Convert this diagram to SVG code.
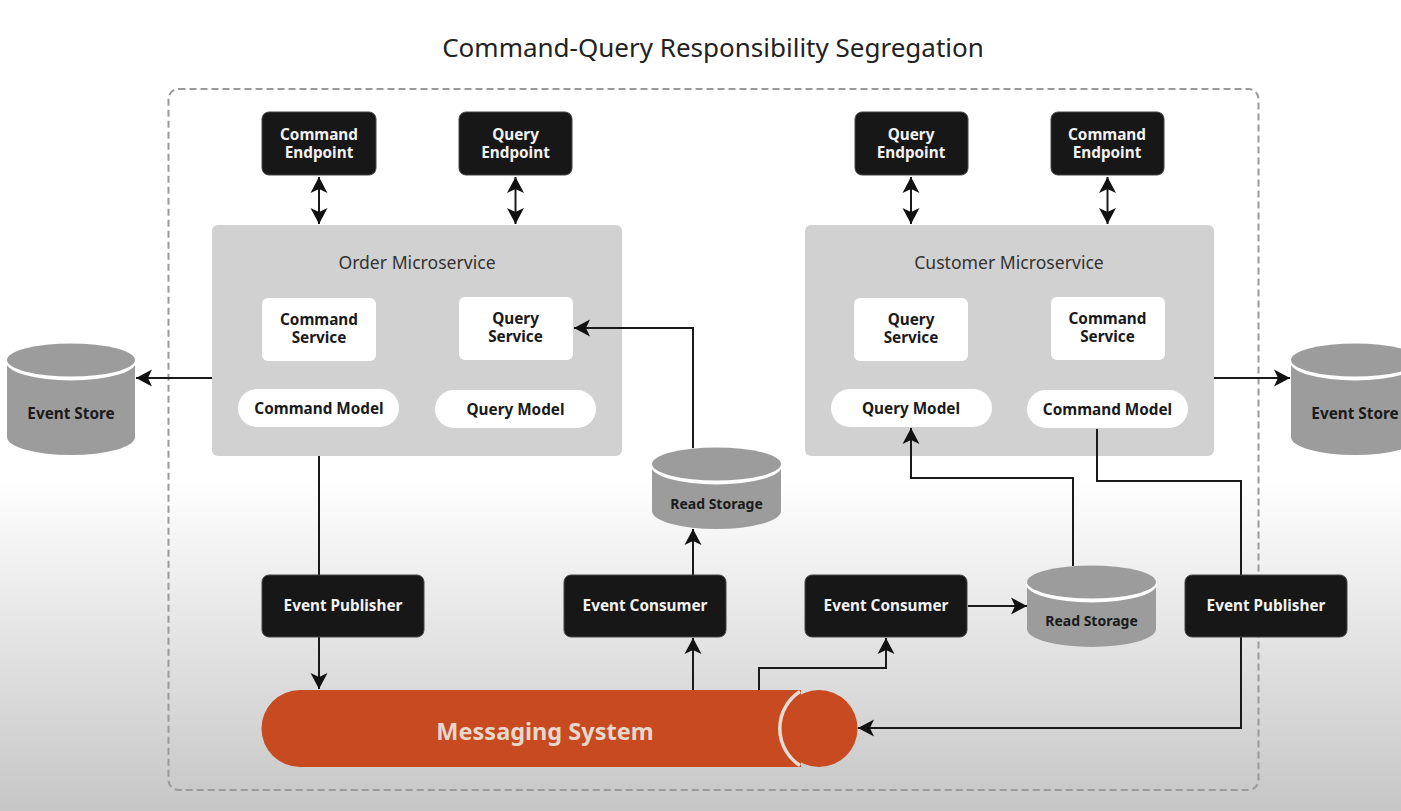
<svg xmlns="http://www.w3.org/2000/svg" width="1401" height="811" viewBox="0 0 1401 811">
<style>
text{font-family:"Noto Sans","Open Sans","DejaVu Sans",sans-serif;text-anchor:middle}
.t{font-size:26px;fill:#222}
.h{font-size:17.6px;fill:#333}
.b{font-size:15.3px;font-weight:700}
.w{fill:#f2f2f2}
.k{fill:#1a1a1a}
.blk{fill:#171717;stroke:#444;stroke-width:1}
.wht{fill:#fff}
.gry{fill:#d1d1d1}
.l{fill:none;stroke:#1a1a1a;stroke-width:2}
.a{marker-end:url(#ah)}
.d{marker-start:url(#ahs);marker-end:url(#ah)}
.cyl{fill:#9c9c9c}
.rim{fill:#fff}
</style>
<defs>
<linearGradient id="bg" x1="0" y1="0" x2="0" y2="1"><stop offset="0" stop-color="#fff"/><stop offset=".59" stop-color="#fff"/><stop offset="1" stop-color="#c6c6c6"/></linearGradient>
<marker id="ah" markerUnits="userSpaceOnUse" markerWidth="18" markerHeight="20" refX="16" refY="10" orient="auto"><path d="M0 1.500 L16 10 L0 18.500 L4 10Z" fill="#111"/></marker>
<marker id="ahs" markerUnits="userSpaceOnUse" markerWidth="18" markerHeight="20" refX="16" refY="10" orient="auto-start-reverse"><path d="M0 1.500 L16 10 L0 18.500 L4 10Z" fill="#111"/></marker>
</defs>
<rect width="1401" height="811" fill="url(#bg)"/>
<text class="t" x="713" y="56.500">Command-Query Responsibility Segregation</text>
<rect x="168.500" y="89" width="1090" height="701" rx="10" fill="none" stroke="#9a9a9a" stroke-width="2" stroke-dasharray="7 4"/>

<g id="order-microservice"><rect class="gry" x="212" y="225" width="410" height="231" rx="6"/><text class="h" x="417" y="268.500">Order Microservice</text></g>
<g id="customer-microservice"><rect class="gry" x="805" y="225" width="409" height="231" rx="6"/><text class="h" x="1009" y="268.500">Customer Microservice</text></g>

<g id="connectors">
<path class="l d" d="M319 177V224"/>
<path class="l d" d="M515.500 177V224"/>
<path class="l d" d="M911 177V224"/>
<path class="l d" d="M1107.500 177V224"/>
<path class="l a" d="M212 378H136"/>
<path class="l a" d="M1214 378H1290"/>
<path class="l a" d="M693 448V328H574"/>
<path class="l a" d="M693 575V529"/>
<path class="l a" d="M693 690V638"/>
<path class="l" d="M319 456V575"/>
<path class="l a" d="M319 637V689"/>
<path class="l a" d="M759 690V668H886V638"/>
<path class="l a" d="M968 606H1027"/>
<path class="l a" d="M1073 566V478H911V428"/>
<path class="l" d="M1097 429V481H1241V575"/>
<path class="l a" d="M1241 637V728H858"/>
</g>

<g id="command-endpoint-1"><rect class="blk" x="262" y="112" width="114" height="63" rx="7"/><text class="b w" x="319" y="140">Command</text><text class="b w" x="319" y="158">Endpoint</text></g>
<g id="query-endpoint-1"><rect class="blk" x="459" y="112" width="113" height="63" rx="7"/><text class="b w" x="515.500" y="140">Query</text><text class="b w" x="515.500" y="158">Endpoint</text></g>
<g id="query-endpoint-2"><rect class="blk" x="855" y="112" width="113" height="63" rx="7"/><text class="b w" x="911" y="140">Query</text><text class="b w" x="911" y="158">Endpoint</text></g>
<g id="command-endpoint-2"><rect class="blk" x="1051" y="112" width="113" height="63" rx="7"/><text class="b w" x="1107" y="140">Command</text><text class="b w" x="1107" y="158">Endpoint</text></g>

<g id="command-service-1"><rect class="wht" x="262" y="298" width="114" height="63" rx="6"/><text class="b k" x="319" y="325">Command</text><text class="b k" x="319" y="343">Service</text></g>
<g id="query-service-1"><rect class="wht" x="459" y="297" width="114" height="63" rx="6"/><text class="b k" x="515.500" y="324">Query</text><text class="b k" x="515.500" y="342">Service</text></g>
<g id="query-service-2"><rect class="wht" x="854" y="298" width="114" height="63" rx="6"/><text class="b k" x="911" y="325">Query</text><text class="b k" x="911" y="343">Service</text></g>
<g id="command-service-2"><rect class="wht" x="1051" y="297" width="114" height="63" rx="6"/><text class="b k" x="1107.500" y="324">Command</text><text class="b k" x="1107.500" y="342">Service</text></g>

<g id="command-model-1"><rect class="wht" x="238" y="389" width="161" height="38" rx="19"/><text class="b k" x="319" y="414">Command Model</text></g>
<g id="query-model-1"><rect class="wht" x="435" y="390" width="161" height="38" rx="19"/><text class="b k" x="515.500" y="415">Query Model</text></g>
<g id="query-model-2"><rect class="wht" x="831" y="389" width="161" height="38" rx="19"/><text class="b k" x="911" y="414">Query Model</text></g>
<g id="command-model-2"><rect class="wht" x="1027" y="390" width="161" height="38" rx="19"/><text class="b k" x="1107.500" y="415">Command Model</text></g>

<g id="event-store-1"><path class="cyl" d="M7 362V437A64 18 0 0 0 135 437V362Z"/><ellipse class="rim" cx="71" cy="362" rx="65" ry="18.500"/><ellipse class="cyl" cx="71" cy="360" rx="64" ry="16.500"/><text class="b k" x="71" y="419">Event Store</text></g>
<g id="event-store-2"><path class="cyl" d="M1291 362V437A64 18 0 0 0 1419 437V362Z"/><ellipse class="rim" cx="1355" cy="362" rx="65" ry="18.500"/><ellipse class="cyl" cx="1355" cy="360" rx="64" ry="16.500"/><text class="b k" x="1355" y="419">Event Store</text></g>
<g id="read-storage-1"><path class="cyl" d="M652 466V511A64.500 18 0 0 0 781 511V466Z"/><ellipse class="rim" cx="716.500" cy="466" rx="65.500" ry="18.500"/><ellipse class="cyl" cx="716.500" cy="464" rx="64.500" ry="16.500"/><text class="b k" style="font-size:14px" x="716.500" y="509">Read Storage</text></g>
<g id="read-storage-2"><path class="cyl" d="M1027 584V629A64.500 18 0 0 0 1156 629V584Z"/><ellipse class="rim" cx="1091.500" cy="584" rx="65.500" ry="18.500"/><ellipse class="cyl" cx="1091.500" cy="582" rx="64.500" ry="16.500"/><text class="b k" style="font-size:14px" x="1091.500" y="626">Read Storage</text></g>

<g id="event-publisher-1"><rect class="blk" x="262" y="575" width="162" height="62" rx="7"/><text class="b w" x="343" y="611">Event Publisher</text></g>
<g id="event-consumer-1"><rect class="blk" x="564" y="575" width="162" height="62" rx="7"/><text class="b w" x="645" y="611">Event Consumer</text></g>
<g id="event-consumer-2"><rect class="blk" x="805" y="575" width="162" height="62" rx="7"/><text class="b w" x="886" y="611">Event Consumer</text></g>
<g id="event-publisher-2"><rect class="blk" x="1185" y="575" width="162" height="62" rx="7"/><text class="b w" x="1266" y="611">Event Publisher</text></g>

<g id="messaging-system"><path d="M300 690H801V767H300A38.500 38.500 0 0 1 300 690Z" fill="#c74a20"/><circle cx="819" cy="728.500" r="38.500" fill="#c74a20"/><path d="M800 691.500A44 44 0 0 0 800 765.500" fill="none" stroke="#e8dcd4" stroke-width="3.500"/><text x="545" y="740" font-size="23.500" font-weight="700" fill="#e8d8cc">Messaging System</text></g>
</svg>
